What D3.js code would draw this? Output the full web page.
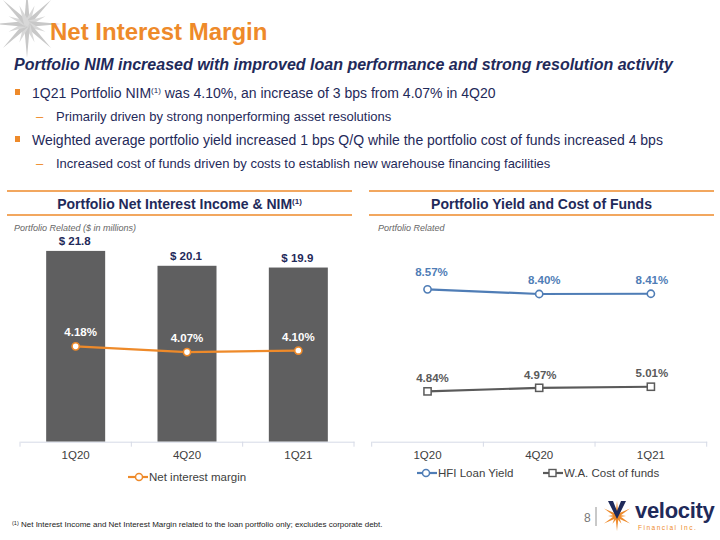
<!DOCTYPE html>
<html><head><meta charset="utf-8">
<script src="https://cdn.jsdelivr.net/npm/d3@7"></script>
<style>body{margin:0;background:#fff}svg{display:block;font-family:"Liberation Sans",Arial,sans-serif}</style>
</head><body><svg id="c" width="720" height="540"></svg>
<script>
const categories = ["1Q20","4Q20","1Q21"];
const netInterestIncome = [21.8, 20.1, 19.9];
const nim = [4.18, 4.07, 4.10];
const hfiLoanYield = [8.57, 8.40, 8.41];
const costOfFunds = [4.84, 4.97, 5.01];

const NAVY="#1f2a5a", ORANGE="#ee8a2a", BAR="#5f5f60", BLUE="#4f7db6", GRAY="#5a5a5a", AX="#d6dae6";
const svg=d3.select("#c");

// decorative star top-left
const star=svg.append("g").attr("transform","translate(27,24)");
for(let i=0;i<16;i++){
  const a=i*Math.PI/8, long=i%2===0?34:20;
  const p=[[0,-long],[3,0],[0,3],[-3,0]];
  star.append("path").attr("d",d3.line()(p)).attr("fill",i%2? "#d8d8d8":"#c8c8c8")
    .attr("transform",`rotate(${a*180/Math.PI})`);
}
svg.append("text").attr("x",50).attr("y",40).attr("fill",ORANGE).attr("font-weight","bold").attr("font-size",24).text("Net Interest Margin");
svg.append("text").attr("x",14).attr("y",70).attr("fill",NAVY).attr("font-weight","bold").attr("font-style","italic").attr("font-size",16).text("Portfolio NIM increased with improved loan performance and strong resolution activity");

const bullets=[
 {y:98,lvl:0,t:["1Q21 Portfolio NIM","(1)"," was 4.10%, an increase of 3 bps from 4.07% in 4Q20"]},
 {y:121,lvl:1,t:["Primarily driven by strong nonperforming asset resolutions"]},
 {y:145,lvl:0,t:["Weighted average portfolio yield increased 1 bps Q/Q while the portfolio cost of funds increased 4 bps"]},
 {y:168,lvl:1,t:["Increased cost of funds driven by costs to establish new warehouse financing facilities"]}
];
bullets.forEach(b=>{
  if(b.lvl===0){
    svg.append("rect").attr("x",15).attr("y",b.y-9).attr("width",5).attr("height",6).attr("fill",ORANGE);
  } else {
    svg.append("text").attr("x",36).attr("y",b.y).attr("fill",ORANGE).attr("font-size",13).text("–");
  }
  const t=svg.append("text").attr("x",b.lvl?56:32).attr("y",b.y).attr("fill",NAVY).attr("font-size",b.lvl?13:14);
  b.t.forEach((s,i)=>{
    const ts=t.append("tspan").text(s);
    if(s==="(1)") ts.attr("font-size",8).attr("dy",-5);
    else if(i>0 && b.t[i-1]==="(1)") ts.attr("dy",5);
  });
});

// section headers
function header(x0,x1,title,sup){
  [191,215].forEach(y=>svg.append("line").attr("x1",x0).attr("x2",x1).attr("y1",y).attr("y2",y).attr("stroke",ORANGE).attr("stroke-width",1.5));
  const t=svg.append("text").attr("x",(x0+x1)/2).attr("y",209).attr("text-anchor","middle").attr("fill",NAVY).attr("font-weight","bold").attr("font-size",14).text(title);
  if(sup) t.append("tspan").attr("font-size",8).attr("dy",-5).text(sup);
}
header(7,352,"Portfolio Net Interest Income & NIM","(1)");
header(369,714,"Portfolio Yield and Cost of Funds");
svg.append("text").attr("x",14).attr("y",231).attr("fill","#666").attr("font-style","italic").attr("font-size",9).text("Portfolio Related ($ in millions)");
svg.append("text").attr("x",378).attr("y",231).attr("fill","#666").attr("font-style","italic").attr("font-size",9).text("Portfolio Related");

const yTop=222.9, yBot=441.7;

// ---- left chart ----
const xLc=d3.scaleBand().domain(categories).range([20,354]);
const yL=d3.scaleLinear().domain([0,25]).range([yBot,yTop]);
const yL2=d3.scaleLinear().domain([2.35,6.55]).range([yBot,yTop]);
svg.append("g").selectAll("rect.bar").data(categories).join("rect").attr("class","bar")
  .attr("x",d=>xLc(d)+xLc.bandwidth()/2-29.5).attr("width",59)
  .attr("y",(d,i)=>yL(netInterestIncome[i])).attr("height",(d,i)=>yBot-yL(netInterestIncome[i])).attr("fill",BAR);
const axL=svg.append("g").attr("transform",`translate(0,${yBot})`).call(d3.axisBottom(xLc).tickSize(0).tickPadding(9));
axL.select(".domain").attr("stroke",AX);
axL.selectAll("text").attr("font-size",11.5).attr("fill","#404040").attr("font-family","Liberation Sans, Arial");
[20,...categories.map(c=>xLc(c)+xLc.bandwidth())].forEach(x=>svg.append("line").attr("x1",x).attr("x2",x).attr("y1",yBot).attr("y2",yBot+5).attr("stroke",AX));
categories.forEach((c,i)=>{
  const cx=xLc(c)+xLc.bandwidth()/2;
  svg.append("text").attr("x",cx-1).attr("y",yL(netInterestIncome[i])-6).attr("text-anchor","middle").attr("fill",NAVY).attr("font-weight","bold").attr("font-size",11.5).text("$ "+netInterestIncome[i].toFixed(1));
});
const lineL=d3.line().x((d,i)=>xLc(categories[i])+xLc.bandwidth()/2).y(d=>yL2(d));
svg.append("path").attr("d",lineL(nim)).attr("fill","none").attr("stroke",ORANGE).attr("stroke-width",2.2);
const nimLabDx=[5,0,0];
nim.forEach((v,i)=>{
  const cx=xLc(categories[i])+xLc.bandwidth()/2;
  svg.append("circle").attr("cx",cx).attr("cy",yL2(v)).attr("r",3.6).attr("fill","#fff").attr("stroke",ORANGE).attr("stroke-width",1.6);
  svg.append("text").attr("x",cx+nimLabDx[i]).attr("y",yL2(v)-10).attr("text-anchor","middle").attr("fill","#fff").attr("font-weight","bold").attr("font-size",11.5).text(v.toFixed(2)+"%");
});
// legend left
svg.append("line").attr("x1",128).attr("x2",148).attr("y1",477).attr("y2",477).attr("stroke",ORANGE).attr("stroke-width",2.2);
svg.append("circle").attr("cx",139).attr("cy",477).attr("r",3.5).attr("fill","#fff").attr("stroke",ORANGE).attr("stroke-width",1.5);
svg.append("text").attr("x",149).attr("y",481).attr("fill","#404040").attr("font-size",11.5).text("Net interest margin");

// ---- right chart ----
const xR=d3.scaleBand().domain(categories).range([371.7,706.7]);
const yR=d3.scaleLinear().domain([3,11]).range([yBot,yTop]);
const axR=svg.append("g").attr("transform",`translate(0,${yBot})`).call(d3.axisBottom(xR).tickSize(0).tickPadding(9));
axR.select(".domain").attr("stroke",AX);
axR.selectAll("text").attr("font-size",11.5).attr("fill","#404040").attr("font-family","Liberation Sans, Arial");
[371.7,...categories.map(c=>xR(c)+xR.bandwidth())].forEach(x=>svg.append("line").attr("x1",x).attr("x2",x).attr("y1",yBot).attr("y2",yBot+5).attr("stroke",AX));
const lineR=d3.line().x((d,i)=>xR(categories[i])+xR.bandwidth()/2).y(d=>yR(d));
svg.append("path").attr("d",lineR(hfiLoanYield)).attr("fill","none").attr("stroke",BLUE).attr("stroke-width",2.2);
svg.append("path").attr("d",lineR(costOfFunds)).attr("fill","none").attr("stroke",GRAY).attr("stroke-width",2.2);
const hfiDx=[4,5,1], hfiDy=[-13,-10,-10];
hfiLoanYield.forEach((v,i)=>{
  const cx=xR(categories[i])+xR.bandwidth()/2;
  svg.append("circle").attr("cx",cx).attr("cy",yR(v)).attr("r",3.6).attr("fill","#fff").attr("stroke",BLUE).attr("stroke-width",1.6);
  svg.append("text").attr("x",cx+hfiDx[i]).attr("y",yR(v)+hfiDy[i]).attr("text-anchor","middle").attr("fill",BLUE).attr("font-weight","bold").attr("font-size",11.5).text(v.toFixed(2)+"%");
});
const cofDx=[5,1,1], cofDy=[-9,-9,-10];
costOfFunds.forEach((v,i)=>{
  const cx=xR(categories[i])+xR.bandwidth()/2;
  svg.append("rect").attr("x",cx-3.6).attr("y",yR(v)-3.6).attr("width",7.2).attr("height",7.2).attr("fill","#fff").attr("stroke",GRAY).attr("stroke-width",1.5);
  svg.append("text").attr("x",cx+cofDx[i]).attr("y",yR(v)+cofDy[i]).attr("text-anchor","middle").attr("fill",GRAY).attr("font-weight","bold").attr("font-size",11.5).text(v.toFixed(2)+"%");
});
// legend right
svg.append("line").attr("x1",417).attr("x2",437).attr("y1",473).attr("y2",473).attr("stroke",BLUE).attr("stroke-width",2.2);
svg.append("circle").attr("cx",426).attr("cy",473).attr("r",3.5).attr("fill","#fff").attr("stroke",BLUE).attr("stroke-width",1.5);
svg.append("text").attr("x",438).attr("y",477).attr("fill","#404040").attr("font-size",11.5).text("HFI Loan Yield");
svg.append("line").attr("x1",543).attr("x2",563).attr("y1",473).attr("y2",473).attr("stroke",GRAY).attr("stroke-width",2.2);
svg.append("rect").attr("x",549).attr("y",469.5).attr("width",7).attr("height",7).attr("fill","#fff").attr("stroke",GRAY).attr("stroke-width",1.4);
svg.append("text").attr("x",564).attr("y",477).attr("fill","#404040").attr("font-size",11.5).text("W.A. Cost of funds");

// footnote
const fn=svg.append("text").attr("x",12).attr("y",527).attr("fill","#222").attr("font-size",8);
fn.append("tspan").attr("font-size",5.5).attr("dy",-2.5).text("(1)");
fn.append("tspan").attr("dy",2.5).text(" Net Interest Income and Net Interest Margin related to the loan portfolio only; excludes corporate debt.");

// page number + logo
svg.append("text").attr("x",584).attr("y",522).attr("fill","#777").attr("font-size",12).text("8");
svg.append("line").attr("x1",596).attr("x2",596).attr("y1",507).attr("y2",526).attr("stroke","#777").attr("stroke-width",0.8);
const lg=svg.append("g").attr("transform","translate(617,516)");
for(let i=0;i<12;i++){
  const a=i*30, L=i%2?9:15;
  lg.append("path").attr("d",d3.line()([[0,-L],[1.6,0],[0,1.6],[-1.6,0]])).attr("fill",ORANGE).attr("transform",`rotate(${a})`);
}
lg.append("path").attr("d","M-9,-15 L0,3 L9,-15 L4,-15 L0,-5 L-4,-15 Z").attr("fill",NAVY);
svg.append("text").attr("x",635).attr("y",518).attr("fill",NAVY).attr("font-weight","bold").attr("font-size",22).attr("letter-spacing",-0.3).text("velocity");
svg.append("text").attr("x",638).attr("y",530).attr("fill",ORANGE).attr("font-size",6.5).attr("letter-spacing",1.5).text("Financial Inc.");
</script></body></html>
